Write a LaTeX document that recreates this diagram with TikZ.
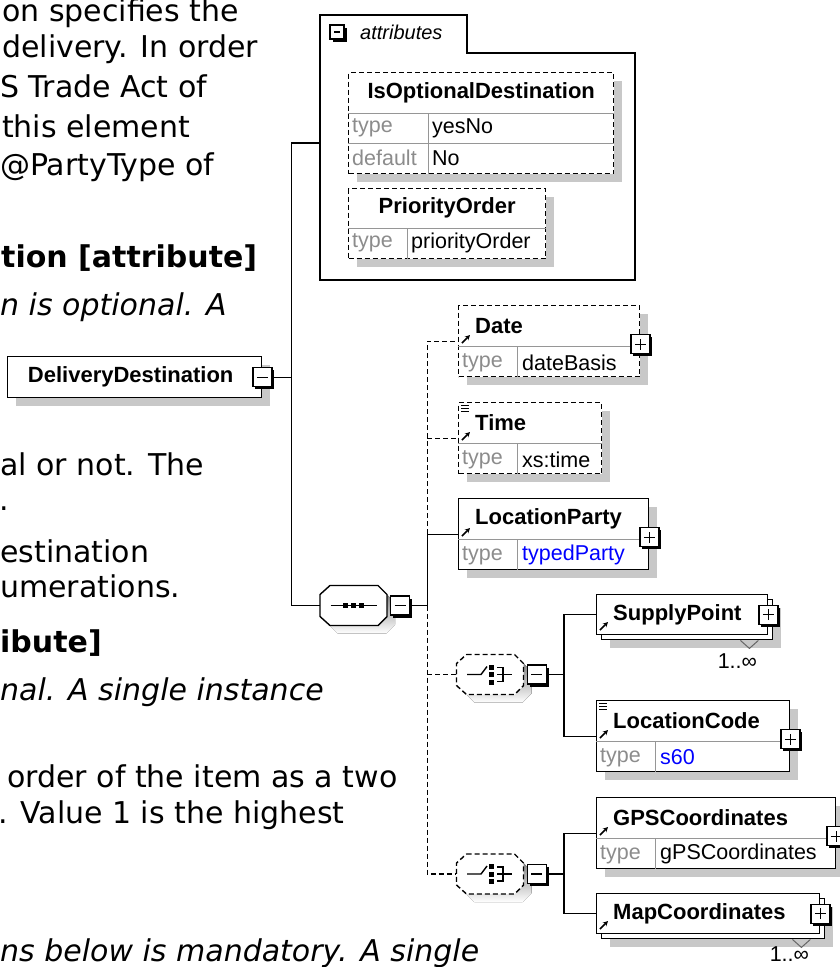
\documentclass[tikz,border=0pt]{standalone}
\usepackage{fontspec}
\setmainfont{Liberation Sans}
\newfontfamily\docfont{DejaVu Sans}
\usetikzlibrary{arrows.meta,positioning,shadows,calc}
\definecolor{shade}{RGB}{200,200,200}
\definecolor{rowgray}{RGB}{150,150,150}
\definecolor{typegray}{RGB}{140,140,140}
\definecolor{refblue}{RGB}{0,0,255}

\tikzset{
  boxflat/.style={draw,fill=white,line width=1.4pt,anchor=north west,inner sep=0pt},
  elem/.style={boxflat,drop shadow={shadow xshift=8pt,shadow yshift=-8pt,fill=shade,opacity=1}},
  optline/.style={dash pattern=on 5pt off 3pt},
  rowsep/.style={draw=rowgray,line width=1pt},
  conn/.style={line width=1.4pt},
  xbox/.style={draw,fill=white,line width=1.4pt,minimum size=19pt,inner sep=0pt,
    drop shadow={shadow xshift=2.5pt,shadow yshift=-2.5pt,fill=black,opacity=1}},
  xminus/.style={xbox,path picture={
    \draw[line width=1.4pt] ([xshift=4pt]path picture bounding box.west) -- ([xshift=-4pt]path picture bounding box.east);}},
  xplus/.style={xbox,path picture={
    \draw[line width=1.4pt] ([xshift=4pt]path picture bounding box.west) -- ([xshift=-4pt]path picture bounding box.east);
    \draw[line width=1.4pt] ([yshift=4pt]path picture bounding box.south) -- ([yshift=-4pt]path picture bounding box.north);}},
  compo/.style={minimum width=67pt,minimum height=40pt,inner sep=0pt},
  ttl/.style={font=\fontsize{22}{25}\selectfont\bfseries,inner sep=0pt,anchor=west},
  lbl/.style={font=\fontsize{21.5}{24}\selectfont,inner sep=0pt,anchor=west},
  tgray/.style={lbl,text=typegray},
  refmark/.style={line width=1.6pt,-{Stealth[length=5pt,width=5pt]}},
  docmd/.style={font=\docfont\fontsize{30}{36}\selectfont,inner sep=0pt,anchor=base west},
  docbf/.style={docmd,font=\docfont\fontsize{30}{36}\selectfont\bfseries},
  docit/.style={docmd,font=\docfont\fontsize{30}{36}\selectfont\itshape},
}

\begin{document}
\begin{tikzpicture}[x=1pt,y=-1pt]
  \useasboundingbox (0,0) rectangle (840,967);

  % documentation text (cut at the left)
  \foreach \i/\x/\y/\f/\t in {
    1/2/21/docmd/on specifies the,
    2/2/57/docmd/delivery. In order,
    3/0/97/docmd/S Trade Act of,
    4/2/137/docmd/this element,
    5/0/175/docmd/@PartyType of,
    6/1/267/docbf/tion [attribute],
    7/0/315/docit/n is optional. A,
    8/0/475/docmd/al or not. The,
    9/-1/510/docmd/.,
    10/0/562/docmd/estination,
    11/0/597/docmd/umerations.,
    12/0/652/docbf/ibute],
    13/0/700/docit/nal. A single instance,
    14/7/787/docmd/order of the item as a two,
    15/-2/823/docmd/. Value 1 is the highest,
    16/0/961/docit/ns below is mandatory. A single}
    \node[\f] (l\i) at (\x,\y) {\t};

  % attributes group
  \draw[line width=1.4pt] (320,280) -- (320,15) -- (467,15) -- (467,53) -- (635,53) -- (635,280) -- cycle;
  \coordinate (attr) at (320,143);
  \node[xminus,minimum size=14pt] (attr-x) at (337,32) {};
  \node[lbl,font=\fontsize{20}{22}\selectfont\itshape,anchor=base west] (attr-t) at (360,39) {attributes};

  \node[elem,optline,minimum width=265pt,minimum height=101pt] (iod) at (348,72) {};
  \draw[rowsep] ([yshift=-41pt]iod.north west) -- ([yshift=-41pt]iod.north east);
  \draw[rowsep] ([yshift=-71pt]iod.north west) -- ([yshift=-71pt]iod.north east);
  \draw[rowsep] ([xshift=80pt,yshift=-41pt]iod.north west) -- ([xshift=80pt]iod.south west);
  \node[ttl,anchor=center] (iod-t) at ([yshift=-21pt]iod.north) {IsOptionalDestination};
  \node[tgray] (iod-k1) at ([xshift=4pt,yshift=-56pt]iod.north west) {type};
  \node[lbl] (iod-v1) at ([xshift=84pt,yshift=-56pt]iod.north west) {yesNo};
  \node[tgray] (iod-k2) at ([xshift=4pt,yshift=-86pt]iod.north west) {default};
  \node[lbl] (iod-v2) at ([xshift=84pt,yshift=-86pt]iod.north west) {No};

  \node[elem,optline,minimum width=197pt,minimum height=70pt] (po) at (348,188) {};
  \draw[rowsep] ([yshift=-40pt]po.north west) -- ([yshift=-40pt]po.north east);
  \draw[rowsep] ([xshift=59pt,yshift=-40pt]po.north west) -- ([xshift=59pt]po.south west);
  \node[ttl,anchor=center] (po-t) at ([yshift=-20pt]po.north) {PriorityOrder};
  \node[tgray] (po-k) at ([xshift=4pt,yshift=-55pt]po.north west) {type};
  \node[lbl] (po-v) at ([xshift=63pt,yshift=-55pt]po.north west) {priorityOrder};

  % root element
  \node[elem,minimum width=254pt,minimum height=41pt] (dd) at (7,356) {};
  \node[ttl,anchor=center] (dd-t) at ([xshift=-4pt]dd.center) {DeliveryDestination};
  \node[xminus] (dd-x) at (dd.east) {};

  % compositors (octagons)
  \foreach \c/\s/\cx/\cy in {seq/solid/353.5/605.5, ch1/optline/490/674.5, ch2/optline/490/874} {
    \node[compo] (\c) at (\cx,\cy) {};
    \begin{scope}[shift={(\c.center)}]
      \fill[shade] (-15.5,-12) -- (32.5,-12) -- (41.5,-3) -- (41.5,19) -- (32.5,28) -- (-15.5,28) -- (-24.5,19) -- (-24.5,-3) -- cycle;
      \draw[line width=1.4pt,fill=white,\s] (-23.5,-20) -- (24.5,-20) -- (33.5,-11) -- (33.5,11) -- (24.5,20) -- (-23.5,20) -- (-33.5,11) -- (-33.5,-11) -- cycle;
    \end{scope}
    \node[xminus] (\c-x) at ([xshift=13pt]\c.east) {};
  }
  \draw[line width=1.4pt] ([xshift=-23pt]seq.center) -- ([xshift=23pt]seq.center);
  \foreach \d in {-8,0,8}
    \fill ([xshift=\d pt]seq.center) +(-2.5,-2.5) rectangle +(2.5,2.5);
  \foreach \c in {ch1,ch2} {
    \begin{scope}[shift={(\c.center)}]
      \draw[line width=1.4pt] (-23,0) -- (-9,0) -- (-3,-8);
      \fill (-1,-10) rectangle (4,-5);
      \fill (-1,-2.5) rectangle (4,2.5);
      \fill (-1,5) rectangle (4,10);
      \draw[line width=1.4pt] (7,-7) -- (13,-7) -- (13,7) -- (7,7) (7,0) -- (22,0);
    \end{scope}
  }

  % child elements with a type row
  \foreach \n/\x/\y/\w/\t/\v/\c/\s in {
    date/458/305/181/Date/dateBasis/black/optline,
    time/458/402/143/Time/xs:time/black/optline,
    lp/458/498/190/LocationParty/typedParty/refblue/solid,
    lc/596/700/193/LocationCode/s60/refblue/solid,
    gps/596/797/239/GPSCoordinates/gPSCoordinates/black/solid}
  {
    \node[elem,\s,minimum width=\w pt,minimum height=71pt] (\n) at (\x,\y) {};
    \draw[rowsep] ([yshift=-41pt]\n.north west) -- ([yshift=-41pt]\n.north east);
    \draw[rowsep] ([xshift=59pt,yshift=-41pt]\n.north west) -- ([xshift=59pt]\n.south west);
    \node[ttl] (\n-t) at ([xshift=17pt,yshift=-21pt]\n.north west) {\t};
    \node[tgray] (\n-k) at ([xshift=4pt,yshift=15pt]\n.south west) {type};
    \node[lbl,text=\c] (\n-v) at ([xshift=64pt,yshift=15pt]\n.south west) {\v};
    \draw[refmark] ($(\n.north west)+(4,38)$) -- ++(8,-8);
  }
  \foreach \n in {date,lp,lc,gps}
    \node[xplus] (\n-x) at ([yshift=-3pt]\n.east) {};
  \foreach \n in {time,lc}
    \foreach \k in {3,6,9}
      \draw[line width=1pt] ($(\n.north west)+(3,\k)$) -- ++(8,0);

  % repeated elements
  \foreach \n/\x/\y/\w/\t/\m in {sp/596/594/171/SupplyPoint/21, map/596/893/223/MapCoordinates/15} {
    \node[elem,minimum width=\w pt,minimum height=40pt] (\n-b) at (\x+5,\y+5) {};
    \node[boxflat,minimum width=\w pt,minimum height=40pt] (\n) at (\x,\y) {};
    \node[ttl] (\n-t) at ([xshift=17pt]\n.west) {\t};
    \draw[refmark] ($(\n.north west)+(4,36)$) -- ++(8,-8);
    \node[xplus] (\n-x) at (\n.east) {};
    \draw[line width=1pt,draw=black!60] ([xshift=-33pt]\n-b.south east) -- ++(9,8) -- ++(9,-8);
    \node[lbl,anchor=center] (\n-m) at ([xshift=-36pt,yshift=-\m pt]\n-b.south east) {1..∞};
  }

  % connectors
  \draw[conn] (dd-x.east) -- ++(19,0) coordinate (trunk);
  \draw[conn] (trunk) |- (attr);
  \draw[conn] (trunk) |- (seq.west);
  \draw[conn] (seq-x.east) -- ++(17,0) coordinate (sq);
  \draw[conn] (sq) |- (lp.west);
  \draw[conn,optline] (sq |- lp.west) |- (date.west);
  \draw[conn,optline] (sq |- time.west) -- (time.west);
  \draw[conn,optline] (sq) |- (ch2.west);
  \draw[conn,optline] (sq |- ch1.west) -- (ch1.west);
  \draw[conn] (ch1-x.east) -- ++(17,0) coordinate (c1);
  \draw[conn] (c1) |- (sp.west);
  \draw[conn] (c1) |- (lc.west);
  \draw[conn] (ch2-x.east) -- ++(17,0) coordinate (c2);
  \draw[conn] (c2) |- (gps.west);
  \draw[conn] (c2) |- (map.west);
\end{tikzpicture}
\end{document}
